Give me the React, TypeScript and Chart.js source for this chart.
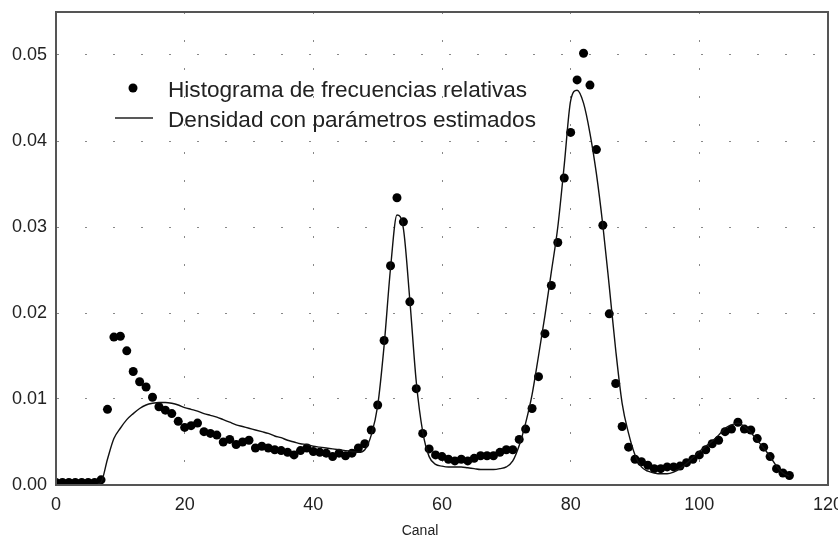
import React, { useEffect, useRef } from "react";
import { Chart, registerables } from "chart.js";

Chart.register(...registerables);

const channels = [
  0, 1, 2, 3, 4, 5, 6, 7, 8, 9, 10, 11, 12, 13, 14, 15, 16, 17, 18, 19,
  20, 21, 22, 23, 24, 25, 26, 27, 28, 29, 30, 31, 32, 33, 34, 35, 36, 37, 38, 39,
  40, 41, 42, 43, 44, 45, 46, 47, 48, 49, 50, 51, 52, 53, 54, 55, 56, 57, 58, 59,
  60, 61, 62, 63, 64, 65, 66, 67, 68, 69, 70, 71, 72, 73, 74, 75, 76, 77, 78, 79,
  80, 81, 82, 83, 84, 85, 86, 87, 88, 89, 90, 91, 92, 93, 94, 95, 96, 97, 98, 99,
  100, 101, 102, 103, 104, 105, 106, 107, 108, 109, 110, 111, 112, 113, 114,
];

// Histograma de frecuencias relativas (dots)
const histogram = [
  0.0003, 0.0003, 0.0003, 0.0003, 0.0003, 0.0003, 0.0003, 0.0006, 0.0088, 0.0172,
  0.0173, 0.0156, 0.0132, 0.0120, 0.0114, 0.0102, 0.0091, 0.0087, 0.0083, 0.0074,
  0.0067, 0.0069, 0.0072, 0.0062, 0.0060, 0.0058, 0.0050, 0.0053, 0.0047, 0.0050,
  0.0052, 0.0043, 0.0045, 0.0043, 0.0041, 0.0040, 0.0038, 0.0035, 0.0040, 0.0043,
  0.0039, 0.0038, 0.0037, 0.0033, 0.0037, 0.0034, 0.0037, 0.0043, 0.0048, 0.0064,
  0.0093, 0.0168, 0.0255, 0.0334, 0.0306, 0.0213, 0.0112, 0.0060, 0.0042, 0.0035,
  0.0033, 0.0030, 0.0028, 0.0030, 0.0028, 0.0031, 0.0034, 0.0034, 0.0034, 0.0038,
  0.0041, 0.0041, 0.0053, 0.0065, 0.0089, 0.0126, 0.0176, 0.0232, 0.0282, 0.0357,
  0.0410, 0.0471, 0.0502, 0.0465, 0.0390, 0.0302, 0.0199, 0.0118, 0.0068, 0.0044,
  0.0030, 0.0027, 0.0023, 0.0019, 0.0019, 0.0021, 0.0021, 0.0022, 0.0026, 0.0030,
  0.0035, 0.0041, 0.0048, 0.0052, 0.0062, 0.0065, 0.0073, 0.0065, 0.0064, 0.0054,
  0.0044, 0.0033, 0.0019, 0.0014, 0.0011,
];

// Densidad con parámetros estimados (line)
const density = [
  0, 0, 0, 0, 0, 0, 0, 0.0003, 0.0030, 0.0054,
  0.0066, 0.0076, 0.0083, 0.0089, 0.0093, 0.0095, 0.0096, 0.0096, 0.0095, 0.0093,
  0.0090, 0.0088, 0.0086, 0.0083, 0.0081, 0.0079, 0.0076, 0.0073, 0.0070, 0.0068,
  0.0066, 0.0064, 0.0062, 0.0060, 0.0057, 0.0055, 0.0052, 0.0050, 0.0048, 0.0047,
  0.0045, 0.0044, 0.0043, 0.0042, 0.0041, 0.0040, 0.0039, 0.0038, 0.0041, 0.0058,
  0.0092, 0.0162, 0.0252, 0.0314, 0.0298, 0.0215, 0.0120, 0.0062, 0.0033, 0.0024,
  0.0022, 0.0021, 0.0021, 0.0021, 0.0020, 0.0019, 0.0018, 0.0018, 0.0018, 0.0019,
  0.0021, 0.0028, 0.0046, 0.0072, 0.0105, 0.0150, 0.0197, 0.0248, 0.0300, 0.0372,
  0.0447, 0.0459, 0.0444, 0.0409, 0.0362, 0.0302, 0.0231, 0.0157, 0.0095, 0.0060,
  0.0035, 0.0021, 0.0016, 0.0014, 0.0013, 0.0013, 0.0015, 0.0019, 0.0025, 0.0032,
  0.0039, 0.0045, 0.0051, 0.0058, 0.0066, 0.0070, 0.0072, 0.0068, 0.0061, 0.0052,
  0.0043, 0.0033, 0.0022, 0.0014, 0.0010,
];

const legendLabels = ["Histograma de frecuencias relativas", "Densidad con parámetros estimados"];
const xTitle = "Canal";

const FONT = "'Liberation Sans', Arial, sans-serif";
const TEXT = "#222";

const overlayPlugin = {
  id: "overlay",
  afterDraw(chart: any) {
    const ctx = chart.ctx;
    const a = chart.chartArea;
    ctx.save();
    // frame
    ctx.strokeStyle = "#555";
    ctx.lineWidth = 2;
    ctx.strokeRect(a.left, a.top, a.right - a.left, a.bottom - a.top);
    // legend
    ctx.fillStyle = "#000";
    ctx.beginPath();
    ctx.arc(133, 88, 4.5, 0, Math.PI * 2);
    ctx.fill();
    ctx.strokeStyle = "#222";
    ctx.lineWidth = 1.5;
    ctx.beginPath();
    ctx.moveTo(115, 118);
    ctx.lineTo(153, 118);
    ctx.stroke();
    ctx.fillStyle = TEXT;
    ctx.font = `22.6px ${FONT}`;
    ctx.textAlign = "left";
    ctx.textBaseline = "alphabetic";
    ctx.fillText(legendLabels[0], 168, 97);
    ctx.fillText(legendLabels[1], 168, 127);
    // axis title
    ctx.font = `14px ${FONT}`;
    ctx.textAlign = "center";
    ctx.textBaseline = "middle";
    ctx.fillText(xTitle, 420, 531);
    ctx.restore();
  },
};

export default function App() {
  const canvasRef = useRef<HTMLCanvasElement | null>(null);

  useEffect(() => {
    if (!canvasRef.current) return;
    const lineData = channels.map((c, i) => ({ x: c, y: density[i] }));
    const dotData = channels.map((c, i) => ({ x: c, y: histogram[i] }));
    const chart = new Chart(canvasRef.current, {
      type: "scatter",
      data: {
        datasets: [
          {
            type: "line",
            label: legendLabels[1],
            data: lineData,
            borderColor: "#111",
            borderWidth: 1.4,
            pointRadius: 0,
            cubicInterpolationMode: "monotone",
            fill: false,
          } as any,
          {
            type: "scatter",
            label: legendLabels[0],
            data: dotData,
            backgroundColor: "#000",
            borderWidth: 0,
            pointRadius: 4.5,
          },
        ],
      },
      options: {
        animation: false,
        responsive: true,
        maintainAspectRatio: false,
        layout: { padding: { top: 12, right: 10, left: 0, bottom: 0 } },
        plugins: { legend: { display: false }, tooltip: { enabled: false } },
        scales: {
          x: {
            type: "linear",
            min: 0,
            max: 120,
            afterFit: (s: any) => {
              s.height = 54;
              s.paddingLeft = 0;
              s.paddingRight = 0;
            },
            ticks: {
              stepSize: 20,
              maxRotation: 0,
              padding: 9,
              color: TEXT,
              font: { family: FONT, size: 18 },
            },
            grid: { color: "#888", lineWidth: 1, drawTicks: false },
            border: { display: true, color: "#555", width: 2, dash: [2, 26] },
          },
          y: {
            type: "linear",
            min: 0,
            max: 0.055,
            afterFit: (s: any) => {
              s.width = 56;
              s.paddingTop = 0;
              s.paddingBottom = 0;
            },
            afterBuildTicks: (s: any) => {
              s.ticks = s.ticks.filter(
                (t: any) => Math.abs(t.value * 100 - Math.round(t.value * 100)) < 1e-6
              );
            },
            ticks: {
              stepSize: 0.01,
              padding: 9,
              color: TEXT,
              font: { family: FONT, size: 18 },
              callback: (v: any) => Number(v).toFixed(2),
            },
            grid: { color: "#888", lineWidth: 1, drawTicks: false },
            border: { display: true, color: "#555", width: 2, dash: [2, 26] },
          },
        },
      },
      plugins: [overlayPlugin],
    });
    return () => chart.destroy();
  }, []);

  return (
    <div style={{ position: "absolute", left: 0, top: 0, width: 838, height: 539, background: "#fff" }}>
      <canvas ref={canvasRef} />
    </div>
  );
}
